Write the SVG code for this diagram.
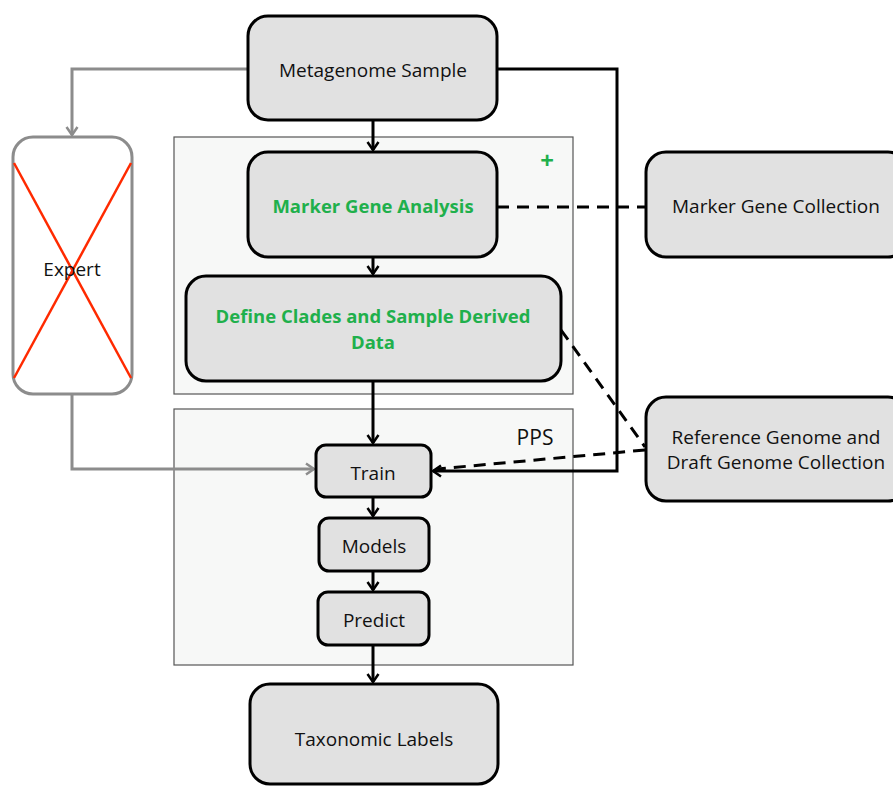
<svg xmlns="http://www.w3.org/2000/svg" width="893" height="786" viewBox="0 0 893 786">
<defs>
<marker id="ab" markerWidth="14" markerHeight="14" refX="11" refY="7" orient="auto" markerUnits="userSpaceOnUse">
<path d="M3,1.5 L11,7 L3,12.5" fill="none" stroke="#000" stroke-width="2.5"/>
</marker>
<marker id="ag" markerWidth="14" markerHeight="14" refX="11" refY="7" orient="auto" markerUnits="userSpaceOnUse">
<path d="M3,1.5 L11,7 L3,12.5" fill="none" stroke="#8c8c8c" stroke-width="2.5"/>
</marker>
</defs>
<style>
.box{fill:#e1e1e1;stroke:#000;stroke-width:3}
.cont{fill:#f7f8f7;stroke:#555;stroke-width:1.2}
.t{font-family:"Open Sans","Liberation Sans",sans-serif;font-size:19px;fill:#111;text-anchor:middle}
.g{font-family:"Open Sans","Liberation Sans",sans-serif;font-size:18.5px;font-weight:bold;fill:#1fb04c;text-anchor:middle}
.bl{fill:none;stroke:#000;stroke-width:3}
.gr{fill:none;stroke:#8c8c8c;stroke-width:3}
.da{fill:none;stroke:#000;stroke-width:3;stroke-dasharray:12 8}
</style>
<rect width="893" height="786" fill="#fff"/>
<g id="upper-container"><rect class="cont" x="174" y="137" width="399" height="257"/>
<text x="547" y="169" class="g" style="font-size:24px">+</text></g>
<g id="pps-container"><rect class="cont" x="174" y="409" width="399" height="256"/>
<text x="535" y="445" class="t" style="font-size:21px">PPS</text></g>
<g id="connectors">
<path class="gr" d="M248,69 H72 V135" marker-end="url(#ag)"/>
<path class="gr" d="M72,395 V469 H314" marker-end="url(#ag)"/>
<path class="bl" d="M373,120 V150" marker-end="url(#ab)"/>
<path class="bl" d="M373,257 V274" marker-end="url(#ab)"/>
<path class="bl" d="M373,381 V443" marker-end="url(#ab)"/>
<path class="bl" d="M373,497 V516" marker-end="url(#ab)"/>
<path class="bl" d="M373,571 V590" marker-end="url(#ab)"/>
<path class="bl" d="M373,645 V682" marker-end="url(#ab)"/>
<path class="bl" d="M497,69 H617 V471 H433" marker-end="url(#ab)"/>
<path class="da" d="M497,207 H646"/>
<path class="da" d="M561,330 L645,447"/>
<path class="da" d="M645,450 L437,469"/>
</g>
<g id="metagenome-sample"><rect class="box" x="248" y="16" width="249" height="104" rx="20"/>
<text class="t" x="373" y="77">Metagenome Sample</text></g>
<g id="marker-gene-analysis"><rect class="box" x="248" y="152" width="249" height="105" rx="20"/>
<text class="g" x="373" y="213">Marker Gene Analysis</text></g>
<g id="define-clades"><rect class="box" x="186" y="276" width="375" height="105" rx="20"/>
<text class="g" x="373" y="323">Define Clades and Sample Derived</text>
<text class="g" x="373" y="349">Data</text></g>
<g id="train"><rect class="box" x="316" y="445" width="115" height="52" rx="10"/>
<text class="t" x="373" y="480">Train</text></g>
<g id="models"><rect class="box" x="319" y="518" width="110" height="53" rx="10"/>
<text class="t" x="374" y="553">Models</text></g>
<g id="predict"><rect class="box" x="318" y="592" width="111" height="53" rx="10"/>
<text class="t" x="374" y="627">Predict</text></g>
<g id="taxonomic-labels"><rect class="box" x="250" y="684" width="248" height="100" rx="20"/>
<text class="t" x="374" y="746">Taxonomic Labels</text></g>
<g id="expert"><rect x="13" y="137" width="119" height="257" rx="20" fill="#fff" stroke="#8c8c8c" stroke-width="3"/>
<line x1="14" y1="163" x2="131" y2="378" stroke="#ff2a00" stroke-width="2.5"/>
<line x1="131" y1="163" x2="14" y2="378" stroke="#ff2a00" stroke-width="2.5"/>
<text class="t" x="72" y="276">Expert</text></g>
<g id="marker-gene-collection"><rect class="box" x="646" y="152" width="262" height="105" rx="20"/>
<text class="t" x="776" y="213">Marker Gene Collection</text></g>
<g id="reference-genome"><rect class="box" x="646" y="397" width="262" height="104" rx="20"/>
<text class="t" x="776" y="444">Reference Genome and</text>
<text class="t" x="776" y="469">Draft Genome Collection</text></g>
</svg>
